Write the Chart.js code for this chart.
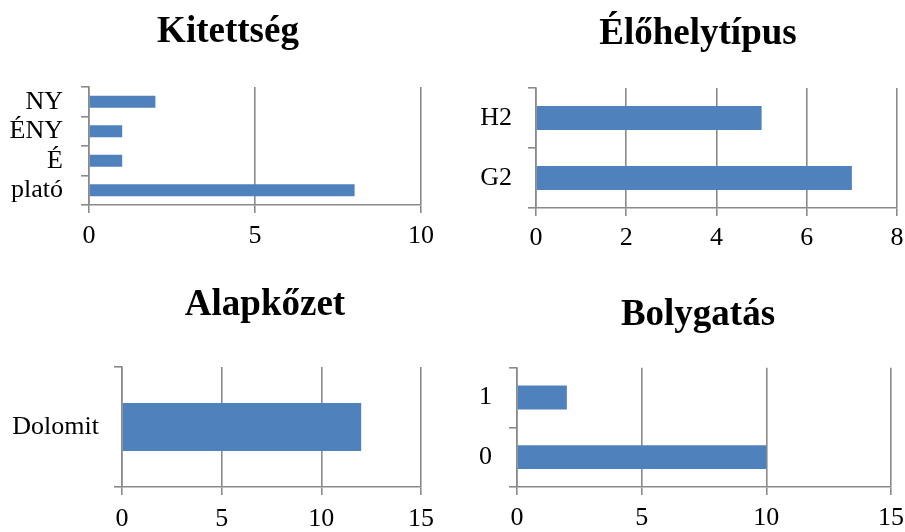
<!DOCTYPE html>
<html>
<head>
<meta charset="utf-8">
<script src="https://cdn.jsdelivr.net/npm/chart.js@4"></script>
<style>
  html, body { margin: 0; padding: 0; background: #fff; }
  body { width: 905px; height: 532px; position: relative; overflow: hidden; }
  .box { position: absolute; }
</style>
</head>
<body>
<div class="box" style="left:0px;top:0px;width:456px;height:266px"><canvas id="c1"></canvas></div>
<div class="box" style="left:470px;top:0px;width:456px;height:266px"><canvas id="c2"></canvas></div>
<div class="box" style="left:0px;top:266px;width:530px;height:266px"><canvas id="c3"></canvas></div>
<div class="box" style="left:470px;top:266px;width:456px;height:266px"><canvas id="c4"></canvas></div>
<script>
// ----- Data (top-to-bottom order) -----
const kitettsegLabels = ['NY', 'ÉNY', 'É', 'plató'];
const kitettsegValues = [2, 1, 1, 8];
const kitettsegTicks = { max: 10, step: 5 };

const elohelyLabels = ['H2', 'G2'];
const elohelyValues = [5, 7];
const elohelyTicks = { max: 8, step: 2 };

const alapkozetLabels = ['Dolomit'];
const alapkozetValues = [12];
const alapkozetTicks = { max: 15, step: 5 };

const bolygatasLabels = ['1', '0'];
const bolygatasValues = [2, 10];
const bolygatasTicks = { max: 15, step: 5 };

// ----- Shared look -----
const BAR = '#4F81BD';
const GRID = '#8a8a8a';
const SERIF = "'Liberation Serif', 'Times New Roman', serif";

function makeChart(id, title, labels, values, ticks, lay) {
  const ctx = document.getElementById(id);
  return new Chart(ctx, {
    type: 'bar',
    data: {
      labels,
      datasets: [{
        data: values,
        backgroundColor: BAR,
        borderWidth: 0,
        barPercentage: 0.4,
        categoryPercentage: 1.0
      }]
    },
    options: {
      indexAxis: 'y',
      responsive: true,
      maintainAspectRatio: false,
      animation: false,
      devicePixelRatio: 1,
      layout: { padding: 0 },
      plugins: {
        legend: { display: false },
        tooltip: { enabled: false },
        title: {
          display: true,
          text: title,
          color: '#000',
          font: { family: SERIF, size: 37, weight: 'bold', lineHeight: 1.2 },
          padding: { top: lay.tTop, bottom: lay.tBot }
        }
      },
      scales: {
        x: {
          min: 0,
          max: ticks.max,
          ticks: {
            stepSize: ticks.step,
            color: '#000',
            padding: lay.xPad,
            font: { family: SERIF, size: 26 }
          },
          grid: { color: GRID, lineWidth: 1.6, tickLength: 8, drawTicks: true },
          border: { display: true, color: GRID, width: 1.6 },
          afterFit: (s) => { s.height = lay.xH; }
        },
        y: {
          ticks: {
            color: '#000',
            autoSkip: false,
            padding: lay.yPad,
            font: { family: SERIF, size: 26 }
          },
          grid: { drawOnChartArea: false, drawTicks: true, tickLength: 8, color: GRID, lineWidth: 1.6, offset: true },
          border: { display: true, color: GRID, width: 1.6 },
          afterFit: (s) => { s.width = lay.yW; }
        },
        // empty right-hand box, only keeps space so the title stays centred on the whole box
        pad: {
          type: 'linear',
          position: 'right',
          ticks: { display: false },
          grid: { display: false, drawTicks: false },
          border: { display: false },
          afterFit: (s) => { s.width = lay.rW; }
        }
      }
    }
  });
}

window.addEventListener('DOMContentLoaded', () => {
  makeChart('c1', 'Kitettség', kitettsegLabels, kitettsegValues, kitettsegTicks,
    { yW: 89, rW: 35, xH: 61, tTop: 10, tBot: 32.6, xPad: 7.5, yPad: 18 });
  makeChart('c2', 'Élőhelytípus', elohelyLabels, elohelyValues, elohelyTicks,
    { yW: 66, rW: 29, xH: 58, tTop: 11.8, tBot: 31.8, xPad: 6.5, yPad: 16 });
  makeChart('c3', 'Alapkőzet', alapkozetLabels, alapkozetValues, alapkozetTicks,
    { yW: 122, rW: 109, xH: 45, tTop: 16.8, tBot: 39.8, xPad: 9, yPad: 15 });
  makeChart('c4', 'Bolygatás', bolygatasLabels, bolygatasValues, bolygatasTicks,
    { yW: 47, rW: 35, xH: 45, tTop: 26.8, tBot: 30.5, xPad: 8, yPad: 17 });
});
</script>
</body>
</html>
